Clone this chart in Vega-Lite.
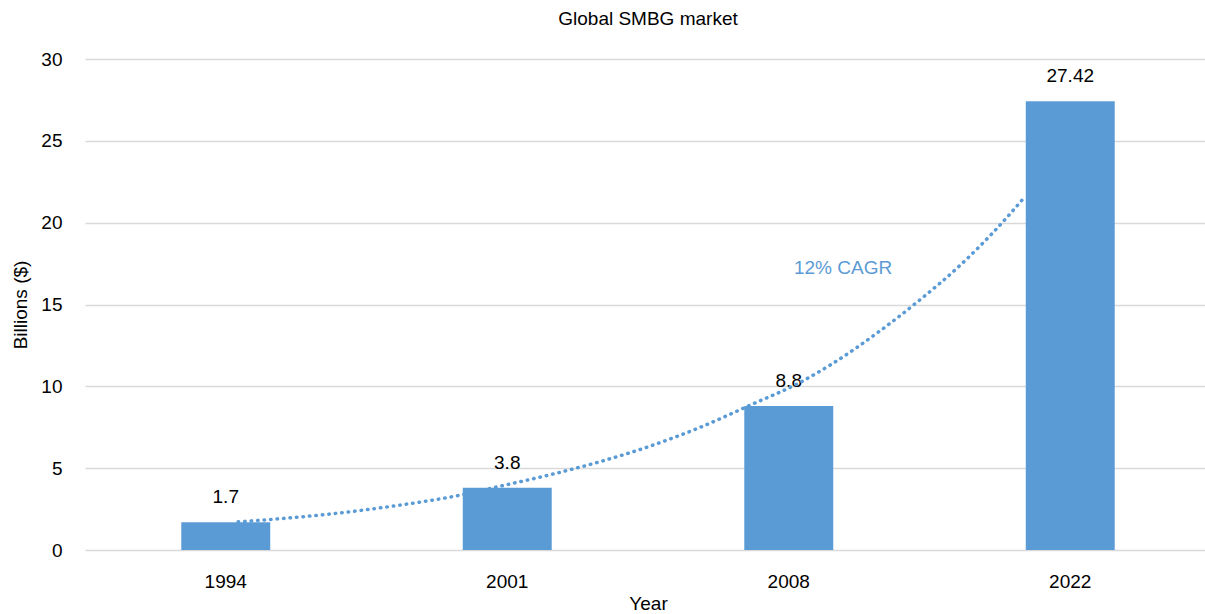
{
  "$schema": "https://vega.github.io/schema/vega-lite/v6.json",
  "autosize": {"type": "none"},
  "padding": {"left": 85, "top": 59, "right": 0, "bottom": 64},
  "width": 1126,
  "height": 491,
  "background": "white",
  "config": {"font": "Liberation Sans", "view": {"stroke": null}},
  "title": {"text": "Global SMBG market", "fontSize": 19, "fontWeight": "normal", "color": "#000000", "offset": 21, "anchor": "middle", "frame": "group"},
  "datasets": {
    "bars": [
      {"year": "1994", "value": 1.7, "label": "1.7"},
      {"year": "2001", "value": 3.8, "label": "3.8"},
      {"year": "2008", "value": 8.8, "label": "8.8"},
      {"year": "2022", "value": 27.42, "label": "27.42"}
    ],
    "trend": [
      {"pos": 0.044, "value": 1.72},
      {"pos": 0.371, "value": 2.2},
      {"pos": 0.609, "value": 2.72},
      {"pos": 0.833, "value": 3.35},
      {"pos": 0.975, "value": 3.9},
      {"pos": 1.153, "value": 4.6},
      {"pos": 1.33, "value": 5.4},
      {"pos": 1.508, "value": 6.35},
      {"pos": 1.686, "value": 7.5},
      {"pos": 1.863, "value": 8.85},
      {"pos": 2.041, "value": 10.25},
      {"pos": 2.147, "value": 11.3},
      {"pos": 2.325, "value": 13.4},
      {"pos": 2.467, "value": 15.3},
      {"pos": 2.609, "value": 17.4},
      {"pos": 2.726, "value": 19.4},
      {"pos": 2.84, "value": 21.6}
    ],
    "note": [{"pos": 2.193, "value": 17.2, "label": "12% CAGR"}]
  },
  "layer": [
    {
      "data": {"name": "bars"},
      "encoding": {
        "x": {"field": "year", "type": "nominal", "sort": null,
          "scale": {"paddingInner": 0.684, "paddingOuter": 0.342},
          "axis": {"labelAngle": 0, "domain": false, "ticks": false, "tickSize": 0, "labelFontSize": 19, "labelColor": "#000000", "labelPadding": 22, "title": "Year", "titleFontSize": 19, "titleFontWeight": "normal", "titleColor": "#000000", "titlePadding": 3}},
        "y": {"field": "value", "type": "quantitative",
          "scale": {"domain": [0, 30]},
          "axis": {"values": [0, 5, 10, 15, 20, 25, 30], "grid": true, "gridColor": "#d9d9d9", "gridWidth": 1.5, "domain": false, "ticks": false, "tickSize": 0, "labelFontSize": 19, "labelColor": "#000000", "labelPadding": 23, "title": "Billions ($)", "titleFontSize": 19, "titleFontWeight": "normal", "titleColor": "#000000", "titlePadding": 10}}
      },
      "layer": [
        {"mark": {"type": "bar", "color": "#5b9bd5"}},
        {
          "mark": {"type": "text", "fontSize": 19, "color": "#000000", "baseline": "alphabetic", "align": "center"},
          "encoding": {
            "yOffset": {"condition": {"test": "datum.value > 20", "value": -12}, "value": -19},
            "text": {"field": "label"}
          }
        }
      ]
    },
    {
      "encoding": {
        "x": {"field": "pos", "type": "quantitative", "scale": {"domain": [-0.5, 3.5], "nice": false, "zero": false}, "axis": null},
        "y": {"field": "value", "type": "quantitative", "scale": {"domain": [0, 30]}}
      },
      "layer": [
        {
          "data": {"name": "trend"},
          "mark": {"type": "line", "color": "#5b9bd5", "strokeWidth": 3.5, "strokeDash": [0.5, 6], "strokeCap": "round", "interpolate": "monotone"}
        },
        {
          "data": {"name": "note"},
          "mark": {"type": "text", "fontSize": 19, "color": "#5b9bd5", "baseline": "middle", "align": "center"},
          "encoding": {"text": {"field": "label"}}
        }
      ]
    }
  ],
  "resolve": {"scale": {"x": "independent"}}
}
